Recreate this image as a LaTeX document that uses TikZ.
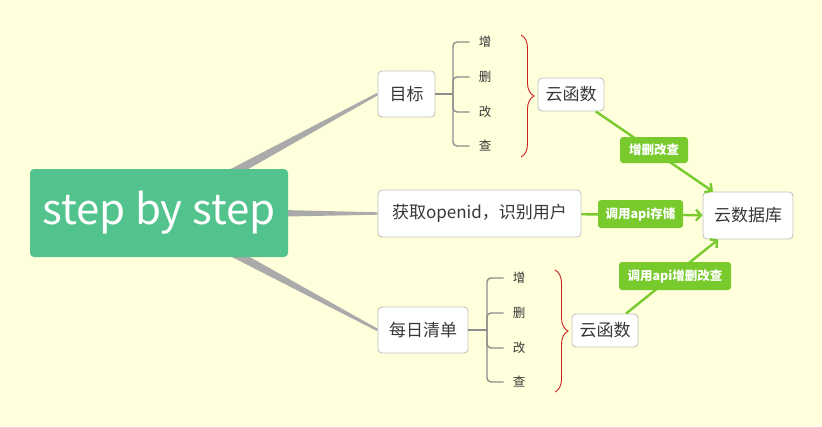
\documentclass[tikz,border=0pt]{standalone}
\usepackage{fontspec}
\setmainfont{Noto Sans CJK SC}
\usetikzlibrary{calc,arrows.meta,decorations.pathreplacing}
\definecolor{bgc}{RGB}{255,255,220}
\definecolor{rootg}{RGB}{82,195,140}
\definecolor{lineg}{RGB}{120,202,45}
\definecolor{wedgec}{RGB}{170,170,170}
\definecolor{borderc}{RGB}{195,195,195}
\definecolor{treec}{RGB}{140,140,140}
\definecolor{bracec}{RGB}{200,30,30}
\definecolor{txtc}{RGB}{55,55,55}
\pgfdeclarelayer{back}
\pgfsetlayers{back,main}
\tikzset{
  topic/.style={draw=borderc, line width=0.9pt, fill=white, rounded corners=4pt, inner sep=0pt, text=txtc, font=\fontsize{17}{20}\selectfont},
  item/.style={inner sep=0pt, text=txtc, font=\fontsize{12.5}{14}\selectfont},
  tree/.style={draw=treec, line width=1.4pt, rounded corners=4pt},
  gline/.style={draw=lineg, line width=2.4pt},
  garrow/.style={gline, -{Straight Barb[length=5pt,width=11pt]}},
  glabel/.style={fill=lineg, rounded corners=3pt, inner sep=0pt, text=white, font=\fontsize{12.5}{14}\selectfont\bfseries},
  bracestyle/.style={draw=bracec, line width=0.9pt, decorate, decoration={brace, amplitude=13pt}},
  wedge/.style={fill=wedgec}
}
\begin{document}
\begin{tikzpicture}[x=1pt,y=-1pt]
\begin{pgfonlayer}{back}
\fill[bgc] (0,0) rectangle (822,426);
\end{pgfonlayer}
\useasboundingbox (0,0) rectangle (822,426);

% nodes
\node[fill=rootg, rounded corners=4pt, minimum width=258pt, minimum height=88pt, inner sep=0pt, text=white, font=\fontsize{42}{48}\selectfont] (root) at (159,213) {step by step};
\node[topic, minimum width=57pt, minimum height=46pt] (mu) at (406.5,94) {目标};
\node[topic, minimum width=203pt, minimum height=47pt] (oid) at (479.5,213.5) {获取openid，识别用户};
\node[topic, minimum width=90pt, minimum height=46pt] (qd) at (423,330) {每日清单};
\node[topic, minimum width=66pt, minimum height=33pt] (yun1) at (571,94.5) {云函数};
\node[topic, minimum width=66pt, minimum height=33pt] (yun2) at (605,330.5) {云函数};
\node[topic, minimum width=90pt, minimum height=47pt] (db) at (748,215.5) {云数据库};

% items
\node[item] (a1) at (485,42) {增};
\node[item] (a2) at (485,77) {删};
\node[item] (a3) at (485,112) {改};
\node[item] (a4) at (485,146) {查};
\node[item] (b1) at (519,278) {增};
\node[item] (b2) at (519,313) {删};
\node[item] (b3) at (519,348) {改};
\node[item] (b4) at (519,382) {查};

% wedges
\begin{pgfonlayer}{back}
\foreach \t in {mu,oid,qd}{
  \fill[wedge] ($(root.center)!6pt!90:(\t.west)$) -- ($(\t.west)!1.2pt!-90:(root.center)$) -- ($(\t.west)!1.2pt!90:(root.center)$) -- ($(root.center)!6pt!-90:(\t.west)$) -- cycle;
}
\end{pgfonlayer}

% trees
\coordinate (ja) at (453,94);
\draw[tree] (mu.east) -- (ja);
\foreach \i in {a1,a2,a3,a4}{\draw[tree, shorten >=9pt] (ja) |- (\i.west);}
\coordinate (jb) at (487,330);
\draw[tree] (qd.east) -- (jb);
\foreach \i in {b1,b2,b3,b4}{\draw[tree, shorten >=9pt] (jb) |- (\i.west);}

% braces
\coordinate (br1a) at (521,35);
\coordinate (br1b) at (521,157);
\draw[bracestyle] (br1a) -- (br1b);
\coordinate (br2a) at (555,270);
\coordinate (br2b) at (555,392);
\draw[bracestyle] (br2a) -- (br2b);

% green connectors
\draw[garrow] (yun1) -- (db);
\draw[garrow] (oid) -- (db);
\draw[garrow] (yun2) -- (db);
\node[glabel, minimum width=68pt, minimum height=26pt] (l1) at (654,150) {增删改查};
\node[glabel, minimum width=85pt, minimum height=28pt] (l2) at (640.5,214) {调用api存储};
\node[glabel, minimum width=112pt, minimum height=28pt] (l3) at (675,276) {调用api增删改查};
\end{tikzpicture}
\end{document}
